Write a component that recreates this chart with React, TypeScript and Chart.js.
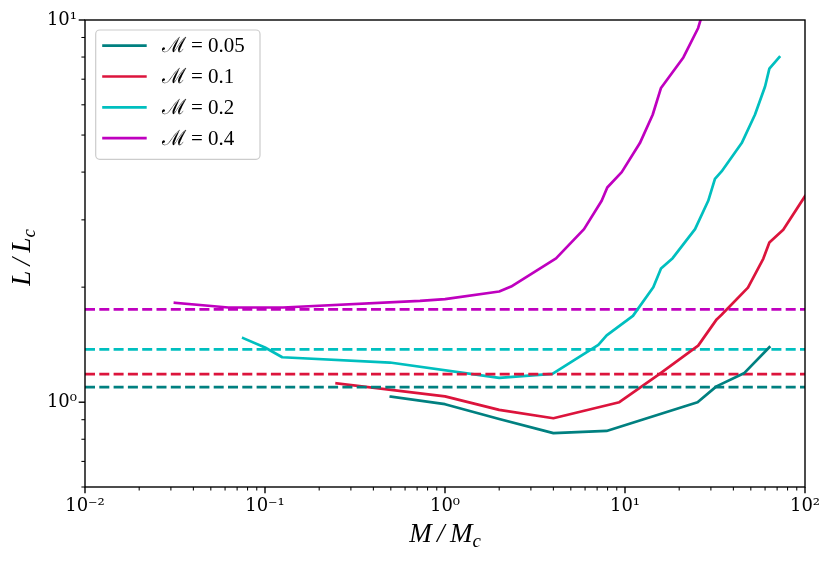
import { useEffect, useRef } from "react";
import { Chart, registerables } from "chart.js";
Chart.register(...registerables);

// series: M = 0.05, 0.1, 0.2, 0.4 (x = M/Mc, y = L/Lc)
const seriesLabels = ["ℳ = 0.05", "ℳ = 0.1", "ℳ = 0.2", "ℳ = 0.4"];
const seriesColors = ["#008080", "#dc143c", "#00bfbf", "#bf00bf"];

const m005X = [0.5, 1, 2, 4, 7.9, 25.3, 32.2, 45.8, 63.4];
const m005Y = [1.034, 0.988, 0.904, 0.83, 0.841, 1.0, 1.1, 1.19, 1.393];

const m01X = [0.25, 1, 2, 4, 9.3, 15.3, 25.5, 32.3, 34.4, 48.2, 58.7, 63.4, 75.7, 100];
const m01Y = [1.121, 1.036, 0.955, 0.908, 1.0, 1.179, 1.406, 1.647, 1.693, 1.995, 2.376, 2.617, 2.825, 3.46];

const m02X = [0.0757, 0.1, 0.1247, 0.494, 2.0, 3.95, 7.11, 7.91, 11.07, 14.36, 15.85, 18.4, 24.5, 29.0, 31.6, 34.4, 44.5, 52.7, 60.0, 63.4, 72.0];
const m02Y = [1.471, 1.39, 1.311, 1.27, 1.158, 1.186, 1.413, 1.496, 1.682, 1.998, 2.237, 2.382, 2.837, 3.365, 3.842, 4.016, 4.764, 5.65, 6.7, 7.46, 8.0];

const m04X = [0.0316, 0.0625, 0.126, 0.726, 1.0, 2.0, 2.33, 4.14, 5.92, 7.42, 7.97, 9.59, 12.1, 14.25, 15.85, 21.1, 25.5, 27.1];
const m04Y = [1.82, 1.769, 1.769, 1.841, 1.861, 1.948, 2.007, 2.379, 2.837, 3.365, 3.646, 4.0, 4.764, 5.65, 6.64, 7.98, 9.53, 10.5];

// horizontal dashed reference levels, one per M
const levelY = [1.095, 1.185, 1.375, 1.75];

const xRange = [0.01, 100];
const yRange = [0.6, 10];
const xMajorTicks = [0.01, 0.1, 1, 10, 100];
const xMajorLabels = ["10⁻²", "10⁻¹", "10⁰", "10¹", "10²"];
const yMajorTicks = [1, 10];
const yMajorLabels = ["10⁰", "10¹"];

const seriesX = [m005X, m01X, m02X, m04X];
const seriesY = [m005Y, m01Y, m02Y, m04Y];

const FONT = "'Liberation Serif', 'DejaVu Serif', serif";
const TICK_FONT = "'DejaVu Serif', serif";

const isMajor = (v: number) => Math.abs(Math.log10(v) - Math.round(Math.log10(v))) < 1e-9;

function logTicks(min: number, max: number) {
  const out: number[] = [];
  for (let e = Math.floor(Math.log10(min)); e <= Math.ceil(Math.log10(max)); e++) {
    for (let m = 1; m < 10; m++) {
      const v = +(m * Math.pow(10, e)).toPrecision(6);
      if (v >= min - 1e-12 && v <= max + 1e-12) out.push(v);
    }
  }
  return out;
}

function drawSub(ctx: CanvasRenderingContext2D, main: string, sub: string, x: number, y: number, size: number) {
  ctx.font = `italic ${size}px ${FONT}`;
  const w1 = ctx.measureText(main).width;
  ctx.font = `italic ${size * 0.7}px ${FONT}`;
  const w2 = ctx.measureText(sub).width;
  const start = x - (w1 + w2) / 2;
  ctx.textAlign = "left";
  ctx.textBaseline = "alphabetic";
  ctx.font = `italic ${size}px ${FONT}`;
  ctx.fillText(main, start, y);
  ctx.font = `italic ${size * 0.7}px ${FONT}`;
  ctx.fillText(sub, start + w1, y + size * 0.18);
}

const decorations = {
  id: "decorations",
  afterDraw(chart: any) {
    const { ctx, chartArea: a, scales } = chart;
    ctx.save();
    ctx.strokeStyle = "#000";
    ctx.fillStyle = "#000";

    // tick marks (outward, bottom + left)
    for (const t of scales.x.ticks) {
      const major = isMajor(t.value);
      const px = scales.x.getPixelForValue(t.value);
      ctx.lineWidth = major ? 1.4 : 1.05;
      ctx.beginPath();
      ctx.moveTo(px, a.bottom);
      ctx.lineTo(px, a.bottom + (major ? 6.3 : 3.6));
      ctx.stroke();
    }
    for (const t of scales.y.ticks) {
      const major = isMajor(t.value);
      const py = scales.y.getPixelForValue(t.value);
      ctx.lineWidth = major ? 1.4 : 1.05;
      ctx.beginPath();
      ctx.moveTo(a.left, py);
      ctx.lineTo(a.left - (major ? 6.3 : 3.6), py);
      ctx.stroke();
    }

    // axes frame
    ctx.lineWidth = 1.4;
    ctx.strokeRect(a.left, a.top, a.right - a.left, a.bottom - a.top);

    // legend box
    const bx = a.left + 10.7, by = a.top + 10, bw = 164.3, bh = 129.3;
    ctx.beginPath();
    ctx.roundRect(bx, by, bw, bh, 4);
    ctx.fillStyle = "rgba(255,255,255,0.8)";
    ctx.fill();
    ctx.strokeStyle = "#cccccc";
    ctx.lineWidth = 1.2;
    ctx.stroke();

    const solid = chart.data.datasets.filter((d: any) => !d.borderDash);
    solid.forEach((d: any, i: number) => {
      const ry = by + 15.7 + i * 30.8;
      ctx.strokeStyle = d.borderColor;
      ctx.lineWidth = 2.7;
      ctx.beginPath();
      ctx.moveTo(bx + 6.5, ry);
      ctx.lineTo(bx + 51, ry);
      ctx.stroke();
      ctx.fillStyle = "#000";
      ctx.font = `21px ${FONT}`;
      ctx.textAlign = "left";
      ctx.textBaseline = "middle";
      ctx.fillText(d.label, bx + 66, ry + 1);
    });

    // axis titles
    ctx.fillStyle = "#000";
    drawSub(ctx, "M\u2009/\u2009M", "c", (a.left + a.right) / 2, 541.7, 27);
    ctx.save();
    ctx.translate(30, (a.top + a.bottom) / 2 + 4);
    ctx.rotate(-Math.PI / 2);
    drawSub(ctx, "L\u2009/\u2009L", "c", 0, 0, 27);
    ctx.restore();

    ctx.restore();
  },
};

export default function App() {
  const canvasRef = useRef<HTMLCanvasElement | null>(null);

  useEffect(() => {
    if (!canvasRef.current) return;

    const datasets: any[] = [];
    seriesLabels.forEach((label, i) => {
      datasets.push({
        label,
        data: seriesX[i].map((x, j) => ({ x, y: seriesY[i][j] })),
        borderColor: seriesColors[i],
        borderWidth: 2.7,
        borderJoinStyle: "round",
        borderCapStyle: "square",
        clip: 0,
      });
      datasets.push({
        label: label + " level",
        data: xRange.map((x) => ({ x, y: levelY[i] })),
        borderColor: seriesColors[i],
        borderWidth: 2.7,
        borderDash: [10, 4.3],
        borderCapStyle: "butt",
        clip: 0,
      });
    });

    const chart = new Chart(canvasRef.current, {
      type: "line",
      data: { datasets },
      options: {
        animation: false,
        responsive: true,
        maintainAspectRatio: false,
        layout: { padding: { left: 0, top: 20, right: 26, bottom: 0 } },
        elements: { point: { radius: 0 }, line: { tension: 0 } },
        plugins: { legend: { display: false }, tooltip: { enabled: false } },
        scales: {
          x: {
            type: "logarithmic",
            min: xRange[0],
            max: xRange[1],
            grid: { display: false, drawTicks: false },
            border: { display: false },
            afterBuildTicks: (s: any) => {
              s.ticks = logTicks(xRange[0], xRange[1]).map((value) => ({ value }));
            },
            afterFit: (s: any) => {
              s.height = 78;
            },
            ticks: {
              autoSkip: false,
              maxRotation: 0,
              minRotation: 0,
              padding: 9,
              color: "#000",
              font: { family: TICK_FONT, size: 18 },
              callback: (v: any) => {
                const k = xMajorTicks.findIndex((t) => Math.abs(t - v) < 1e-9 * t);
                return k >= 0 ? xMajorLabels[k] : "";
              },
            },
          },
          y: {
            type: "logarithmic",
            min: yRange[0],
            max: yRange[1],
            grid: { display: false, drawTicks: false },
            border: { display: false },
            afterBuildTicks: (s: any) => {
              s.ticks = logTicks(yRange[0], yRange[1]).map((value) => ({ value }));
            },
            afterFit: (s: any) => {
              s.width = 85;
            },
            ticks: {
              autoSkip: false,
              padding: 8,
              color: "#000",
              font: { family: TICK_FONT, size: 18 },
              callback: (v: any) => {
                const k = yMajorTicks.findIndex((t) => Math.abs(t - v) < 1e-9 * t);
                return k >= 0 ? yMajorLabels[k] : "";
              },
            },
          },
        },
      },
      plugins: [decorations],
    });

    return () => chart.destroy();
  }, []);

  return (
    <div style={{ position: "absolute", left: 0, top: 0, width: 831, height: 565, background: "#fff" }}>
      <canvas ref={canvasRef} />
    </div>
  );
}
